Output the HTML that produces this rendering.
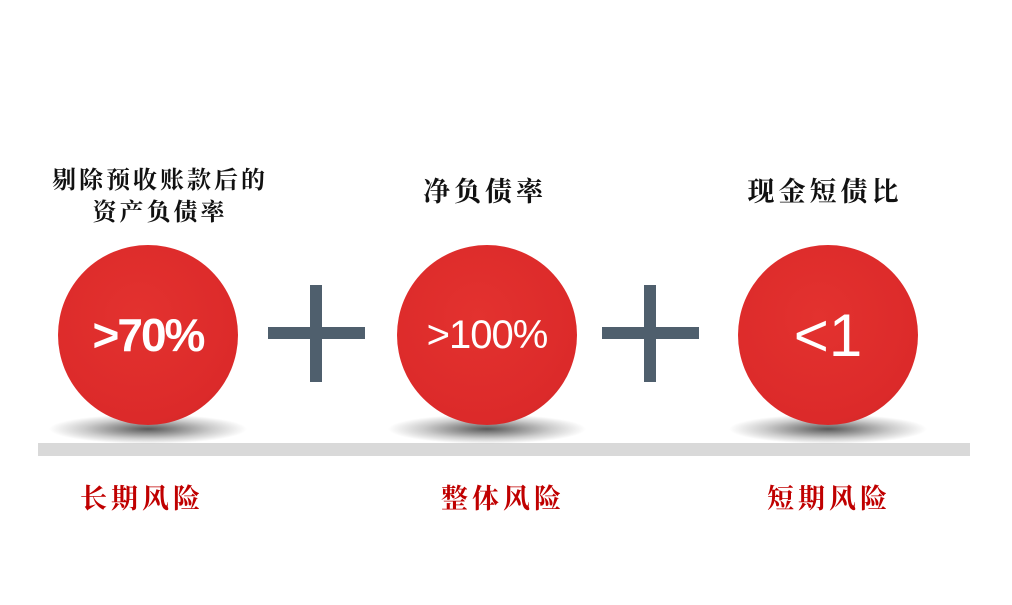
<!DOCTYPE html>
<html><head><meta charset="utf-8"><style>
body{margin:0;width:1012px;height:605px;background:#fff;position:relative;overflow:hidden;font-family:"Liberation Serif","Noto Serif CJK SC",serif}
.t{position:absolute;text-align:center;color:#111;font-size:27px;font-weight:bold;line-height:34px;letter-spacing:4px}
.r{position:absolute;color:#c00000;font-size:27px;font-weight:bold;letter-spacing:4px}
.c{position:absolute;width:180px;height:180px;border-radius:50%;background:radial-gradient(circle at 45% 40%,#e3322f 0%,#dc2a2a 70%,#c82424 100%);color:#fff;font-family:"Liberation Sans",sans-serif;font-weight:bold;display:flex;align-items:center;justify-content:center}
.sh{position:absolute;width:200px;height:30px;border-radius:50%;background:radial-gradient(ellipse at center,rgba(0,0,0,.65) 0%,rgba(0,0,0,.2) 45%,rgba(0,0,0,0) 70%)}
.pv{position:absolute;background:#4f5f6d}
</style></head><body>
<div style="position:absolute;left:38px;top:443px;width:932px;height:13px;background:#d9d9d9"></div>
<div class="sh" style="left:48px;top:414px"></div>
<div class="sh" style="left:387px;top:414px"></div>
<div class="sh" style="left:728px;top:414px"></div>
<div class="c" style="left:58px;top:245px;font-size:46px;letter-spacing:-2px">&gt;70%</div>
<div class="c" style="left:397px;top:245px;font-size:40px;font-weight:normal;letter-spacing:-1px">&gt;100%</div>
<div class="c" style="left:738px;top:245px;font-size:60px;font-weight:normal">&lt;1</div>
<div class="pv" style="left:268px;top:327px;width:97px;height:12px"></div>
<div class="pv" style="left:310px;top:285px;width:12px;height:97px"></div>
<div class="pv" style="left:602px;top:327px;width:97px;height:12px"></div>
<div class="pv" style="left:644px;top:285px;width:12px;height:97px"></div>
<div class="t" style="left:10px;top:165px;width:300px;font-size:24px;letter-spacing:3px;line-height:32px">剔除预收账款后的<br>资产负债率</div>
<div class="t" style="left:360px;top:175px;width:250px">净负债率</div>
<div class="t" style="left:700px;top:175px;width:250px">现金短债比</div>
<div class="r" style="left:80px;top:477px">长期风险</div>
<div class="r" style="left:441px;top:477px">整体风险</div>
<div class="r" style="left:767px;top:477px">短期风险</div>
</body></html>
